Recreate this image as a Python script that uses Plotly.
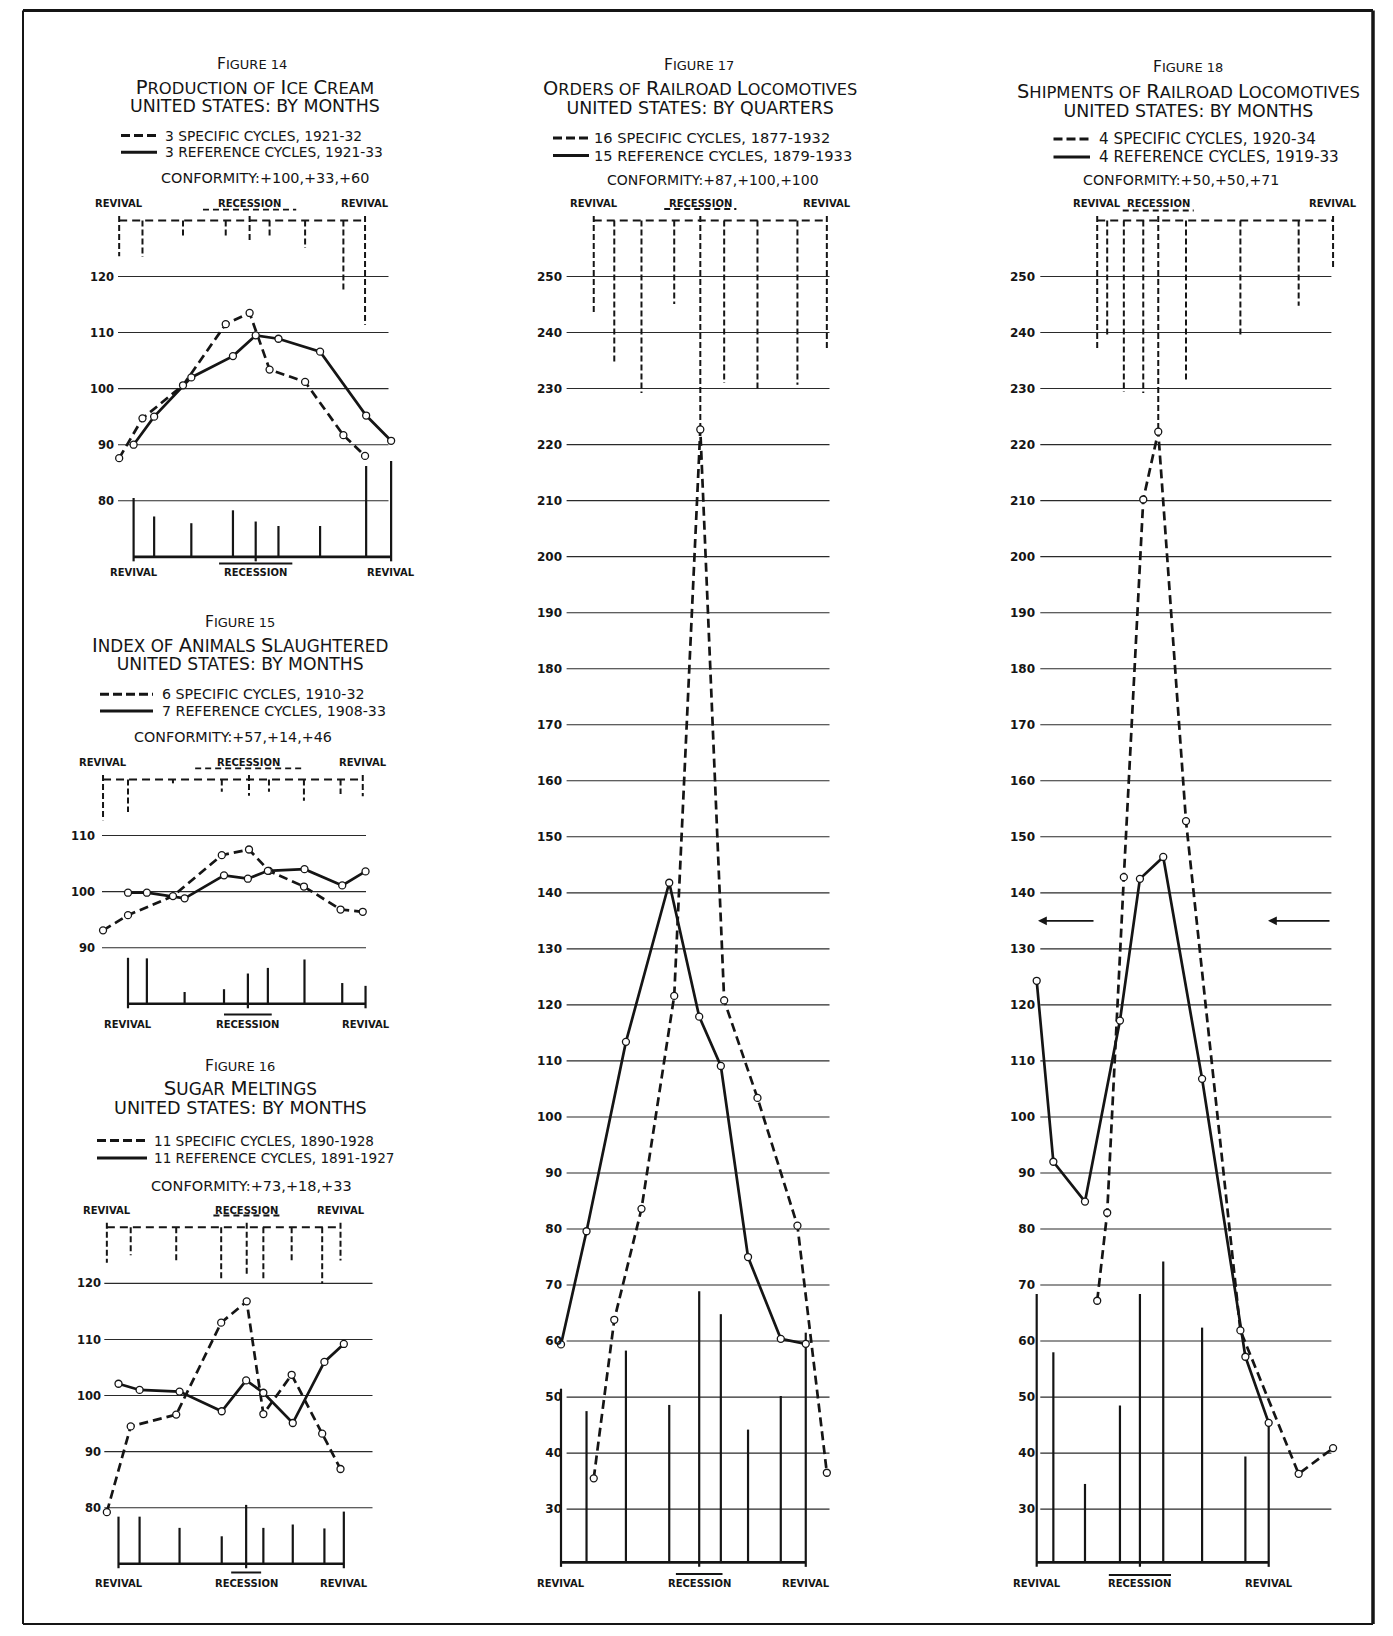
import plotly.graph_objects as go

W, H = 1393, 1636
FONT = "DejaVu Sans"
INK = "#151515"
SX = 5.55        # pixels per month, the time scale shared by every chart
STUB = 0.8       # index points by which stage I, V and IX ticks overshoot a rule
STAGE_TICKS = (0, 4, 8)

# ---------------------------------------------------------------------------
# Figure 14 - production of ice cream, United States, by months
ice_ref_months = [0, 3.7, 10.4, 17.9, 22.0, 26.1, 33.6, 41.9, 46.4]
ice_ref_values = [90.0, 95.0, 102.0, 105.8, 109.5, 108.9, 106.6, 95.2, 90.7]
ice_ref_avgdev = [10.5, 7.2, 6.0, 8.3, 6.3, 5.5, 5.5, 16.2, 17.1]
ice_spec_months = [-2.6, 1.6, 8.9, 16.6, 20.9, 24.5, 30.9, 37.8, 41.7]
ice_spec_values = [87.6, 94.7, 100.6, 111.5, 113.5, 103.4, 101.2, 91.7, 88.0]
ice_spec_avgdev = [6.4, 6.5, 3.0, 3.2, 3.6, 3.0, 4.9, 12.5, 18.6]
ice_ticks = [80, 90, 100, 110, 120]

# Figure 15 - index of animals slaughtered, United States, by months
anim_ref_months = [0, 3.4, 10.2, 17.3, 21.6, 25.2, 31.8, 38.6, 42.8]
anim_ref_values = [99.8, 99.8, 98.8, 102.9, 102.3, 103.7, 104.0, 101.1, 103.6]
anim_ref_avgdev = [8.2, 8.1, 2.1, 2.6, 5.4, 6.4, 7.9, 3.7, 3.2]
anim_spec_months = [-4.5, 0, 8.1, 16.9, 21.8, 25.4, 31.7, 38.3, 42.3]
anim_spec_values = [93.1, 95.8, 99.2, 106.5, 107.5, 103.7, 100.9, 96.8, 96.4]
anim_spec_avgdev = [7.3, 5.8, 0.7, 2.2, 2.9, 2.2, 3.8, 2.6, 3.0]
anim_ticks = [90, 100, 110]

# Figure 16 - sugar meltings, United States, by months
sugar_ref_months = [0, 3.8, 11.0, 18.6, 23.0, 26.1, 31.4, 37.1, 40.6]
sugar_ref_values = [102.1, 101.0, 100.7, 97.2, 102.7, 100.5, 95.1, 106.0, 109.2]
sugar_ref_avgdev = [8.4, 8.4, 6.4, 4.9, 10.5, 6.4, 7.0, 6.3, 9.3]
sugar_spec_months = [-2.1, 2.2, 10.4, 18.5, 23.1, 26.1, 31.2, 36.7, 40.0]
sugar_spec_values = [79.2, 94.5, 96.6, 113.0, 116.8, 96.7, 103.7, 93.2, 86.9]
sugar_spec_avgdev = [6.3, 5.0, 6.1, 9.3, 8.7, 9.3, 6.0, 10.0, 5.9]
sugar_ticks = [80, 90, 100, 110, 120]

# Figure 17 - orders of railroad locomotives, United States, by quarters
orders_ref_months = [0, 4.6, 11.7, 19.5, 24.9, 28.8, 33.7, 39.6, 44.1]
orders_ref_values = [59.4, 79.6, 113.4, 141.8, 117.9, 109.1, 75.0, 60.4, 59.5]
orders_ref_avgdev = [31.0, 27.0, 37.8, 28.1, 48.4, 44.3, 23.7, 29.7, 41.0]
orders_spec_months = [5.9, 9.6, 14.5, 20.4, 25.1, 29.4, 35.4, 42.6, 47.9]
orders_spec_values = [35.5, 63.8, 83.6, 121.6, 222.7, 120.8, 103.4, 80.6, 36.5]
orders_spec_avgdev = [16.7, 25.7, 30.8, 14.9, 37.3, 29.0, 30.5, 29.3, 23.3]
orders_ticks = list(range(30, 251, 10))

# Figure 18 - shipments of railroad locomotives, United States, by months
ship_ref_months = [0, 3.0, 8.7, 15.0, 18.6, 22.8, 29.8, 37.6, 41.8]
ship_ref_values = [124.3, 92.0, 84.9, 117.2, 142.5, 146.4, 106.8, 57.2, 45.4]
ship_ref_avgdev = [47.9, 37.5, 14.0, 28.0, 47.9, 53.7, 41.9, 18.9, 25.1]
ship_spec_months = [10.9, 12.7, 15.7, 19.2, 21.9, 26.9, 36.7, 47.2, 53.4]
ship_spec_values = [67.2, 82.9, 142.8, 210.2, 222.3, 152.8, 61.9, 36.3, 40.9]
ship_spec_avgdev = [22.8, 20.4, 30.6, 30.8, 37.7, 28.7, 20.6, 15.2, 8.5]
ship_ticks = list(range(30, 251, 10))

# ---------------------------------------------------------------------------
# Page geometry of each chart, in pixels of the 1393 x 1636 page
charts = [
    dict(
        fig_no="FIGURE 14", title="PRODUCTION OF ICE CREAM", sub="UNITED STATES: BY MONTHS",
        spec_label="3 SPECIFIC CYCLES, 1921-32", ref_label="3 REFERENCE CYCLES, 1921-33",
        conformity="CONFORMITY:+100,+33,+60",
        ref_m=ice_ref_months, ref_v=ice_ref_values, ref_dev=ice_ref_avgdev,
        spec_m=ice_spec_months, spec_v=ice_spec_values, spec_dev=ice_spec_avgdev, ticks=ice_ticks,
        geo=dict(x0=133.6, p0=276.5, v0=120, sy=5.607, grid=(118, 388.5), dom_x=(108, 400),
                 dom_y=(208, 568), lab_right=113, top=130, base=70, tick_size=11.5,
                 cx=255, fig_x=252, ty=(64.2, 87.4, 105.6), conf=(265, 178.4), leg_y=(135.6, 152.3),
                 leg_x=(121, 157, 163), top_y=203.5, top_line=209.7, top_half=8.4,
                 bot_y=572, bot_line=563.5, bot_half=6.6,
                 fonts=dict(title=16.4, big=19.6, sub=17.4, leg=13.8, conf=14.4)),
    ),
    dict(
        fig_no="FIGURE 15", title="INDEX OF ANIMALS SLAUGHTERED", sub="UNITED STATES: BY MONTHS",
        spec_label="6 SPECIFIC CYCLES, 1910-32", ref_label="7 REFERENCE CYCLES, 1908-33",
        conformity="CONFORMITY:+57,+14,+46",
        ref_m=anim_ref_months, ref_v=anim_ref_values, ref_dev=anim_ref_avgdev,
        spec_m=anim_spec_months, spec_v=anim_spec_values, spec_dev=anim_spec_avgdev, ticks=anim_ticks,
        geo=dict(x0=128, p0=835.5, v0=110, sy=5.61, grid=(102, 366), dom_x=(96, 374),
                 dom_y=(768, 1015), lab_right=94, top=120, base=80, tick_size=11.5,
                 cx=240, fig_x=240, ty=(621.5, 645.0, 663.2), conf=(232.5, 736.7), leg_y=(694.3, 711),
                 leg_x=(100, 153, 159.5), top_y=762.7, top_line=768.3, top_half=9.7,
                 bot_y=1024.5, bot_line=1014.5, bot_half=4.3,
                 fonts=dict(title=16.8, big=19.4, sub=17.2, leg=14.2, conf=14.3)),
    ),
    dict(
        fig_no="FIGURE 16", title="SUGAR MELTINGS", sub="UNITED STATES: BY MONTHS",
        spec_label="11 SPECIFIC CYCLES, 1890-1928", ref_label="11 REFERENCE CYCLES, 1891-1927",
        conformity="CONFORMITY:+73,+18,+33",
        ref_m=sugar_ref_months, ref_v=sugar_ref_values, ref_dev=sugar_ref_avgdev,
        spec_m=sugar_spec_months, spec_v=sugar_spec_values, spec_dev=sugar_spec_avgdev, ticks=sugar_ticks,
        geo=dict(x0=118.5, p0=1283.4, v0=120, sy=5.607, grid=(104.3, 372.5), dom_x=(98, 380),
                 dom_y=(1216, 1575), lab_right=100, top=130, base=70, tick_size=11.5,
                 cx=240, fig_x=240, ty=(1065.5, 1088.5, 1107), conf=(251.5, 1185.5), leg_y=(1140.5, 1158),
                 leg_x=(97, 147, 152), top_y=1210.5, top_line=1215.5, top_half=6.0,
                 bot_y=1583, bot_line=1572.5, bot_half=2.7,
                 fonts=dict(title=16.9, big=19.8, sub=17.6, leg=13.6, conf=14.5)),
    ),
    dict(
        fig_no="FIGURE 17", title="ORDERS OF RAILROAD LOCOMOTIVES", sub="UNITED STATES: BY QUARTERS",
        spec_label="16 SPECIFIC CYCLES, 1877-1932", ref_label="15 REFERENCE CYCLES, 1879-1933",
        conformity="CONFORMITY:+87,+100,+100",
        ref_m=orders_ref_months, ref_v=orders_ref_values, ref_dev=orders_ref_avgdev,
        spec_m=orders_spec_months, spec_v=orders_spec_values, spec_dev=orders_spec_avgdev, ticks=orders_ticks,
        geo=dict(x0=561, p0=276.5, v0=250, sy=5.603, grid=(566.6, 829.5), dom_x=(555, 836),
                 dom_y=(208, 1574), lab_right=561, top=260, base=20.5, tick_size=12,
                 cx=700, fig_x=699, ty=(65.5, 88.3, 106.8), conf=(713, 179.8), leg_y=(138, 155.5),
                 leg_x=(553, 589, 592), top_y=203.3, top_line=209, top_half=6.5,
                 bot_y=1583, bot_line=1574, bot_half=4.2,
                 fonts=dict(title=16.2, big=19.4, sub=17.4, leg=14.6, conf=14.0)),
    ),
    dict(
        fig_no="FIGURE 18", title="SHIPMENTS OF RAILROAD LOCOMOTIVES", sub="UNITED STATES: BY MONTHS",
        spec_label="4 SPECIFIC CYCLES, 1920-34", ref_label="4 REFERENCE CYCLES, 1919-33",
        conformity="CONFORMITY:+50,+50,+71",
        ref_m=ship_ref_months, ref_v=ship_ref_values, ref_dev=ship_ref_avgdev,
        spec_m=ship_spec_months, spec_v=ship_spec_values, spec_dev=ship_spec_avgdev, ticks=ship_ticks,
        geo=dict(x0=1036.7, p0=276.5, v0=250, sy=5.603, grid=(1040.3, 1331.4), dom_x=(1030, 1345),
                 dom_y=(208, 1574), lab_right=1034, top=260, base=20.5, tick_size=12,
                 cx=1188, fig_x=1188, ty=(67.0, 90.8, 109.3), conf=(1181, 179.8), leg_y=(139, 157),
                 leg_x=(1053.5, 1090, 1096.5), top_y=203.3, top_line=210.5, top_half=6.4,
                 bot_y=1583.3, bot_line=1575, bot_half=5.6,
                 fonts=dict(title=16.4, big=19.4, sub=17.4, leg=15.2, conf=14.2),
                 arrows=[(1038, 1095, 135), (1268, 1331, 135)]),
    ),
]


def smallcaps(text, big):
    """Enlarge the initial letter of every word except OF."""
    words = []
    for w in text.split(" "):
        if w and w != "OF" and w[0].isalpha():
            words.append(f"<span style='font-size:{big}px'>{w[0]}</span>{w[1:]}")
        else:
            words.append(w)
    return " ".join(words)


def py(p):
    return 1 - p / H


fig = go.Figure()
axes = {}
annotations = []
shapes = []


def text(x, y, s, size, xref="paper", anchor="center", bold=False):
    annotations.append(dict(
        x=x, y=y, xref=xref, yref="paper", text=s, showarrow=False,
        xanchor=anchor, yanchor="middle",
        font=dict(family=FONT, size=size, color=INK, weight="bold" if bold else "normal"),
    ))


for n, ch in enumerate(charts, start=1):
    g = ch["geo"]
    f = g["fonts"]
    suffix = "" if n == 1 else str(n)
    xid, yid = "x" + suffix, "y" + suffix
    x0, sy, v0, p0 = g["x0"], g["sy"], g["v0"], g["p0"]

    def mx(px, x0=x0):
        return (px - x0) / SX

    def vy(p, v0=v0, p0=p0, sy=sy):
        return v0 - (p - p0) / sy

    dx0, dx1 = g["dom_x"]
    dy0, dy1 = g["dom_y"]
    axes["xaxis" + suffix] = dict(domain=[dx0 / W, dx1 / W], range=[mx(dx0), mx(dx1)],
                                  visible=False, anchor=yid, fixedrange=True)
    axes["yaxis" + suffix] = dict(
        domain=[1 - dy1 / H, 1 - dy0 / H], range=[vy(dy1), vy(dy0)],
        anchor="free", position=(g["lab_right"] + 1) / W, side="left",
        tickvals=ch["ticks"], ticktext=[str(t) for t in ch["ticks"]],
        tickfont=dict(family=FONT, size=g["tick_size"], color=INK, weight="bold"),
        showgrid=False, zeroline=False, showline=False, ticks="", fixedrange=True,
    )
    common = dict(xaxis=xid, yaxis=yid, hoverinfo="skip", showlegend=False)

    # horizontal rules of the index scale
    gx, gy = [], []
    for t in ch["ticks"]:
        gx += [mx(g["grid"][0]), mx(g["grid"][1]), None]
        gy += [t, t, None]
    fig.add_trace(go.Scatter(x=gx, y=gy, mode="lines", line=dict(color="#2a2a2a", width=1.1), **common))

    # average deviations of the reference-cycle relatives, standing on the base line
    bx, by = [], []
    base = g["base"]
    for i, (m, d) in enumerate(zip(ch["ref_m"], ch["ref_dev"])):
        start = base - STUB if i in STAGE_TICKS else base
        bx += [m, m, None]
        by += [start, base + d, None]
    fig.add_trace(go.Scatter(x=bx, y=by, mode="lines", line=dict(color=INK, width=2.2), **common))
    fig.add_trace(go.Scatter(x=[ch["ref_m"][0], ch["ref_m"][-1]], y=[base, base], mode="lines",
                             line=dict(color=INK, width=2.6), **common))

    # average deviations of the specific-cycle relatives, hanging from the top rule
    top = g["top"]
    hx, hy = [], []
    for i, (m, d) in enumerate(zip(ch["spec_m"], ch["spec_dev"])):
        start = top + STUB if i in STAGE_TICKS else top
        hx += [m, m, None]
        hy += [start, top - d, None]
    fig.add_trace(go.Scatter(x=hx, y=hy, mode="lines", line=dict(color=INK, width=2, dash="6px,3px"), **common))
    fig.add_trace(go.Scatter(x=[ch["spec_m"][0], ch["spec_m"][-1]], y=[top, top], mode="lines",
                             line=dict(color=INK, width=2, dash="8px,5px"), **common))

    # cycle patterns
    fig.add_trace(go.Scatter(x=ch["spec_m"], y=ch["spec_v"], mode="lines",
                             line=dict(color=INK, width=2.7, dash="9px,5px"), **common))
    fig.add_trace(go.Scatter(x=ch["ref_m"], y=ch["ref_v"], mode="lines",
                             line=dict(color=INK, width=2.7), **common))
    fig.add_trace(go.Scatter(x=ch["spec_m"] + ch["ref_m"], y=ch["spec_v"] + ch["ref_v"], mode="markers",
                             marker=dict(symbol="circle", size=7, color="white", line=dict(color=INK, width=1.3)),
                             cliponaxis=False, **common))

    # headings: figure number, then title and area set as one two-line block
    text(g["fig_x"] / W, py(g["ty"][0]), smallcaps(ch["fig_no"], 15.5), 13)
    gap = g["ty"][2] - g["ty"][1]
    block = (f"<span style='font-size:{f['title']}px'>{smallcaps(ch['title'], f['big'])}</span>"
             f"<br><span style='font-size:{f['sub']}px'>{ch['sub']}</span>")
    text(g["cx"] / W, py((g["ty"][1] + g["ty"][2]) / 2), block, gap / 1.3)

    # key
    lx0, lx1, ltx = g["leg_x"]
    shapes.append(dict(type="line", xref="paper", yref="paper", x0=lx0 / W, x1=lx1 / W,
                       y0=py(g["leg_y"][0]), y1=py(g["leg_y"][0]),
                       line=dict(color=INK, width=3, dash="9px,4px")))
    shapes.append(dict(type="line", xref="paper", yref="paper", x0=lx0 / W, x1=lx1 / W,
                       y0=py(g["leg_y"][1]), y1=py(g["leg_y"][1]), line=dict(color=INK, width=3)))
    text(ltx / W, py(g["leg_y"][0]), ch["spec_label"], f["leg"], anchor="left")
    text(ltx / W, py(g["leg_y"][1]), ch["ref_label"], f["leg"], anchor="left")
    text(g["conf"][0] / W, py(g["conf"][1]), ch["conformity"], f["conf"])

    # phase names: specific cycles on top (dashed rule), reference cycles below (solid rule)
    sm, rm = ch["spec_m"], ch["ref_m"]
    for m, label in ((sm[0], "REVIVAL"), (sm[4], "RECESSION"), (sm[8], "REVIVAL")):
        text(m, py(g["top_y"]), label, 10, xref=xid, bold=True)
    shapes.append(dict(type="line", xref=xid, yref="paper", x0=sm[4] - g["top_half"], x1=sm[4] + g["top_half"],
                       y0=py(g["top_line"]), y1=py(g["top_line"]),
                       line=dict(color=INK, width=1.8, dash="6px,4px")))
    for m, label in ((rm[0], "REVIVAL"), (rm[4], "RECESSION"), (rm[8], "REVIVAL")):
        text(m, py(g["bot_y"]), label, 10, xref=xid, bold=True)
    shapes.append(dict(type="line", xref=xid, yref="paper", x0=rm[4] - g["bot_half"], x1=rm[4] + g["bot_half"],
                       y0=py(g["bot_line"]), y1=py(g["bot_line"]), line=dict(color=INK, width=2)))

    for head, tail, level in g.get("arrows", []):
        annotations.append(dict(x=mx(head), y=level, ax=mx(tail), ay=level, xref=xid, yref=yid,
                                axref=xid, ayref=yid, text="", showarrow=True, arrowhead=2,
                                arrowsize=1.1, arrowwidth=1.6, arrowcolor=INK))

# page frame: heavier along the top and right edges
frame_left, frame_right, frame_top, frame_bottom = 23, 1373, 10.5, 1624
for xa, ya, xb, yb, width in (
    (frame_left, frame_top, frame_right, frame_top, 3),
    (frame_right, frame_top, frame_right, frame_bottom, 3.5),
    (frame_left, frame_bottom, frame_right, frame_bottom, 2.2),
    (frame_left, frame_top, frame_left, frame_bottom, 2),
):
    shapes.append(dict(type="line", xref="paper", yref="paper", x0=xa / W, x1=xb / W,
                       y0=py(ya), y1=py(yb), line=dict(color=INK, width=width)))

fig.update_layout(
    width=W, height=H, margin=dict(l=0, r=0, t=0, b=0),
    paper_bgcolor="white", plot_bgcolor="rgba(0,0,0,0)",
    showlegend=False, annotations=annotations, shapes=shapes, **axes,
)
fig.write_html("out.html")
